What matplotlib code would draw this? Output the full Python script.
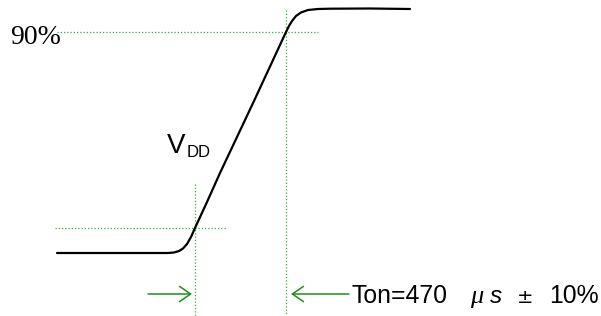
import numpy as np
import matplotlib.pyplot as plt

# power-on waveform (x = time, y = screen row)
curve_x = [57, 120, 168, 174, 179, 183, 187, 191, 195, 207, 220, 254, 286, 289, 292, 296, 301, 308, 318, 330, 370, 410]
curve_y = [253, 253, 253, 252.5, 251, 248.5, 244, 237, 228, 202, 173, 101, 32, 26, 21, 16, 12.5, 10, 9, 8.7, 8.5, 9]

level_10 = 228
level_90 = 32
label_90 = "90%"
ton_parts = ["Ton=470", "μ", "s", "±", "10%"]

fig = plt.figure(figsize=(6.01, 3.16), dpi=100)
ax = fig.add_axes([0, 0, 1, 1])
ax.set_xlim(0, 601)
ax.set_ylim(316, 0)
ax.axis('off')

# crossing times of the 10% and 90% levels
t10 = 195
t90 = 286

guide = '#3aaa3a'
dots = (0, (1, 1.6))
ax.plot([55, 226], [level_10, level_10], color=guide, lw=0.9, ls=dots)
ax.plot([t10, t10], [184, 316], color=guide, lw=0.9, ls=dots)
ax.plot([57, 318], [level_90, level_90], color=guide, lw=0.9, ls=dots)
ax.plot([t90, t90], [10, 316], color=guide, lw=0.9, ls=dots)

ax.plot(curve_x, curve_y, color='black', lw=1.6, solid_capstyle='round', solid_joinstyle='round')

arrow_c = '#1e8f1e'
ap = dict(arrowstyle='->,head_length=0.8,head_width=0.55', color=arrow_c, lw=1.1,
          shrinkA=0, shrinkB=0, mutation_scale=10)
ax.annotate('', xy=(t10 - 3, 294), xytext=(148, 294), arrowprops=ap)
ax.annotate('', xy=(t90 + 5, 294), xytext=(349, 294), arrowprops=ap)

ax.text(10, 37, label_90, fontsize=20, family='Liberation Serif', va='center', ha='left')
ax.text(167, 153, "V", fontsize=20, family='Liberation Sans', va='baseline', ha='left')
ax.text(187, 157, "DD", fontsize=12, family='Liberation Sans', va='baseline', ha='left')

# Ton label, pieces placed like the original (wide gaps around μ s ±)
ty = 303
ax.text(351, ty, ton_parts[0], fontsize=17.8, family='Liberation Sans', va='baseline', ha='left')
ax.text(470, ty, ton_parts[1], fontsize=19, family='Liberation Serif', style='italic', va='baseline', ha='left')
ax.text(490, ty, ton_parts[2], fontsize=17.5, family='Liberation Sans', style='italic', va='baseline', ha='left')
ax.text(517, ty, ton_parts[3], fontsize=14, family='DejaVu Sans', va='baseline', ha='left')
ax.text(549, ty, ton_parts[4], fontsize=17.8, family='Liberation Sans', va='baseline', ha='left')

fig.savefig('out.png', dpi=100)
